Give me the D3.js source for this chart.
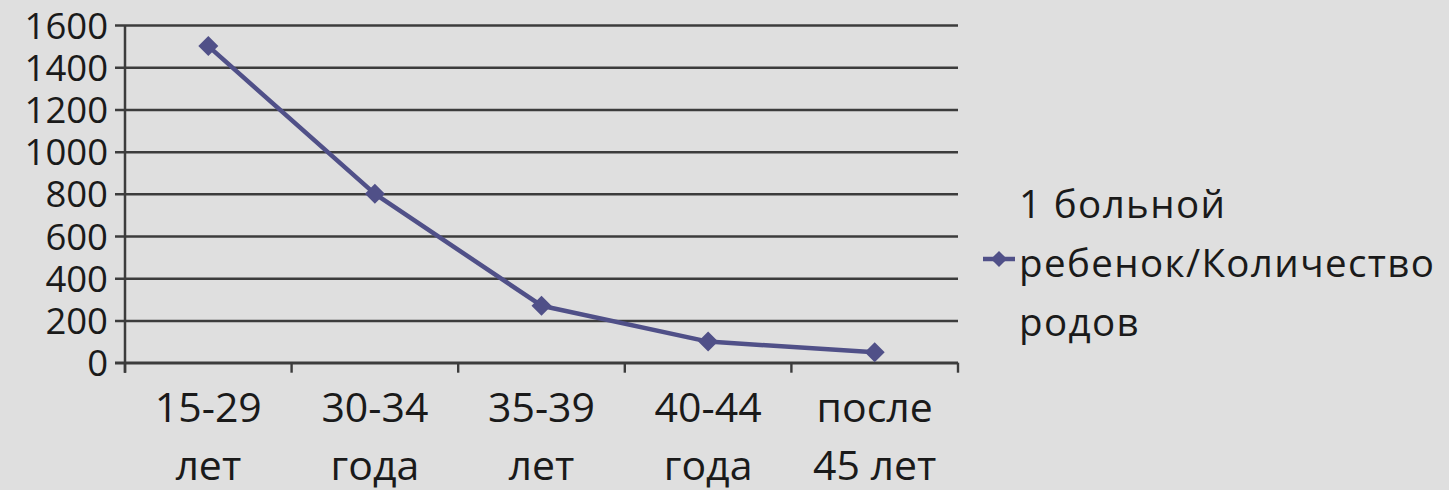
<!DOCTYPE html>
<html>
<head>
<meta charset="utf-8">
<script src="https://cdn.jsdelivr.net/npm/d3@7/dist/d3.min.js"></script>
<style>
  html, body { margin: 0; padding: 0; background: #dfdfdf; }
  svg { display: block; }
  text { font-family: "Open Sans", "Noto Sans", sans-serif; fill: #1a1a1a; }
</style>
</head>
<body>
<svg id="chart" width="1449" height="490"></svg>
<script>
const categories = ["15-29 лет", "30-34 года", "35-39 лет", "40-44 года", "после 45 лет"];
const values = [1500, 800, 270, 100, 50];
const yTicks = [0, 200, 400, 600, 800, 1000, 1200, 1400, 1600];
const seriesName = ["1 больной", "ребенок/Количество", "родов"];

(function () {
const svg = d3.select("#chart");
const W = 1449, H = 490;
svg.append("rect").attr("width", W).attr("height", H).attr("fill", "#dfdfdf");

const pLeft = 125, pRight = 958, pTop = 25, pBottom = 362.7;
const x = d3.scaleBand().domain(categories).range([pLeft, pRight]).padding(0);
const y = d3.scaleLinear().domain([0, 1600]).range([pBottom, pTop]);

const gridColor = "#3c3c3c";
const lineColor = "#505088";

// gridlines + y labels
const yAxis = d3.axisLeft(y).tickValues(yTicks).tickSize(-(pRight - pLeft)).tickPadding(0).tickFormat(d3.format("d"));
const gy = svg.append("g").attr("transform", `translate(${pLeft},0)`).call(yAxis);
gy.select(".domain").remove();
gy.selectAll(".tick line").attr("x1", -10).attr("stroke", gridColor).attr("stroke-width", 2.5);
gy.selectAll(".tick text").attr("x", -17).attr("dy", "0.36em").style("font-size", "36.5px").attr("fill", "#1a1a1a");

// y axis line
svg.append("line").attr("x1", pLeft).attr("x2", pLeft).attr("y1", pTop).attr("y2", pBottom + 10)
  .attr("stroke", gridColor).attr("stroke-width", 2.5);

// x axis line and ticks at category boundaries
svg.append("line").attr("x1", pLeft - 10).attr("x2", pRight).attr("y1", y(0)).attr("y2", y(0))
  .attr("stroke", gridColor).attr("stroke-width", 2.6);
const bounds = categories.map(c => x(c)).concat([x(categories[categories.length - 1]) + x.bandwidth()]);
svg.append("g").selectAll("line").data(bounds).join("line")
  .attr("x1", d => d).attr("x2", d => d).attr("y1", y(0)).attr("y2", y(0) + 10)
  .attr("stroke", gridColor).attr("stroke-width", 2.4);

// x labels (two lines)
const xl = svg.append("g").selectAll("text").data(categories).join("text")
  .attr("text-anchor", "middle")
  .attr("x", d => x(d) + x.bandwidth() / 2)
  .attr("y", 422)
  .style("font-size", "41px");
xl.each(function(d) {
  const i = d.indexOf(" ");
  const parts = [d.slice(0, i), d.slice(i + 1)];
  const t = d3.select(this);
  t.append("tspan").attr("x", x(d) + x.bandwidth() / 2).attr("dy", 0).text(parts[0]);
  t.append("tspan").attr("x", x(d) + x.bandwidth() / 2).attr("dy", 58).text(parts[1]);
});

// line
const line = d3.line().x((d, i) => x(categories[i]) + x.bandwidth() / 2).y(d => y(d));
svg.append("path").datum(values).attr("d", line).attr("fill", "none")
  .attr("stroke", lineColor).attr("stroke-width", 4.5).attr("stroke-linejoin", "round");

// markers
svg.append("g").selectAll("path").data(values).join("path")
  .attr("d", d3.symbol().type(d3.symbolSquare).size(200))
  .attr("transform", (d, i) => `translate(${x(categories[i]) + x.bandwidth() / 2},${y(d)}) rotate(45)`)
  .attr("fill", lineColor);

// legend
const lg = svg.append("g");
lg.append("line").attr("x1", 983).attr("x2", 1015).attr("y1", 259).attr("y2", 259)
  .attr("stroke", lineColor).attr("stroke-width", 4.5);
lg.append("path").attr("d", d3.symbol().type(d3.symbolSquare).size(130))
  .attr("transform", "translate(999,259) rotate(45)").attr("fill", lineColor);
lg.selectAll("text").data(seriesName).join("text")
  .attr("x", 1019).attr("y", (d, i) => 218 + i * 59)
  .style("font-size", "38.5px").style("letter-spacing", "1.4px").text(d => d);
})();
</script>
</body>
</html>
